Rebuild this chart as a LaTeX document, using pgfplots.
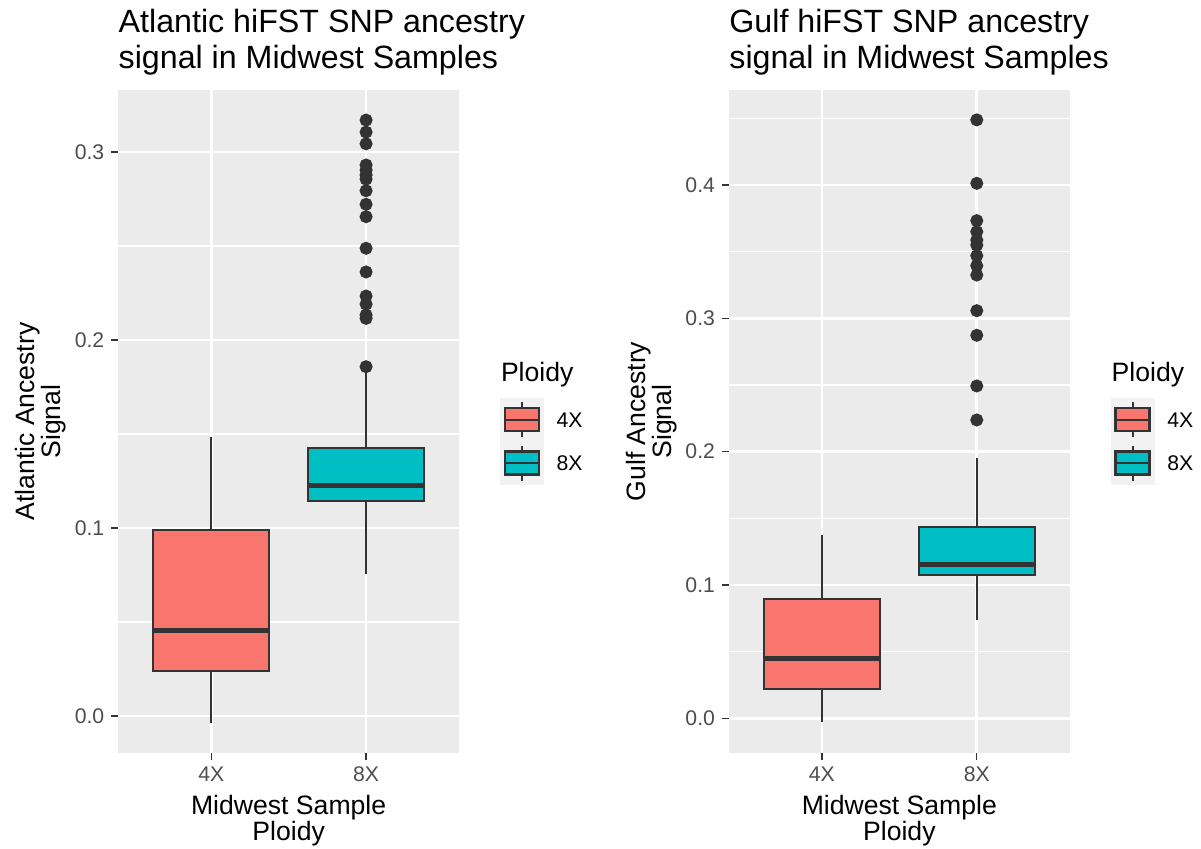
\documentclass[border=0pt]{standalone}
\usepackage{fontspec}
\setmainfont{Liberation Sans}
\usepackage{pgfplots}
\pgfplotsset{compat=1.18}
\usepgfplotslibrary{statistics}
\definecolor{panelbg}{HTML}{EBEBEB}
\definecolor{keybg}{HTML}{F2F2F2}
\definecolor{dark}{HTML}{333333}
\definecolor{ticktext}{HTML}{4D4D4D}
\definecolor{c4x}{HTML}{F8766D}
\definecolor{c8x}{HTML}{00BFC4}

\pgfplotsset{
  ggkey/.style={legend image code/.code={
      \fill[keybg] (0pt,-10.625pt) rectangle (21.5pt,10.625pt);
      \draw[dark, line width=1.1pt] (10.75pt,-8.75pt) -- (10.75pt,8.75pt);
      \filldraw[fill=#1, draw=dark, line width=1.1pt] (2pt,-5.75pt) rectangle (19pt,5.75pt);
      \draw[dark, line width=1.1pt] (2pt,0pt) -- (19pt,0pt);
  }},
  ggpanel/.style={
    scale only axis, width=170.35pt, height=331.5pt,
    anchor=south west,
    axis background/.style={fill=panelbg},
    axis line style={draw=none},
    xmin=0.4, xmax=2.6, xtick={1,2}, xticklabels={4X,8X},
    xtick pos=bottom, ytick pos=left,
    tick align=outside, major tick length=3.5pt, minor tick length=0pt,
    tick style={dark, line width=0.65pt},
    grid=both,
    major grid style={white, line width=1.3pt},
    minor grid style={white, line width=0.65pt},
    ticklabel style={font=\fontsize{10.6}{12}\selectfont, text=ticktext},
    label style={font=\fontsize{13.3}{13.25}\selectfont, text=black, align=center, inner sep=0pt},
    xlabel style={at={(axis description cs:0.5,-0.0625)}, anchor=north},
    ylabel style={at={(axis description cs:-0.3040,0.5)}, anchor=north},
    boxplot/draw direction=y,
    boxplot/box extend=0.75,
    boxplot/whisker extend=0,
    boxplot/every box/.style={draw=dark, line width=1.15pt},
    boxplot/every whisker/.style={draw=dark, line width=1.15pt},
    boxplot/every median/.style={draw=dark, line width=2.3pt},
    legend style={draw=none, fill=none, inner sep=0pt, row sep=0pt, column sep=6.2pt,
      nodes={inner sep=0pt, text depth=0pt}, cells={anchor=west},
      font=\fontsize{10.6}{12}\selectfont,
      at={(axis description cs:1.1203,0.5359)}, anchor=north west},
  },
  ggbox/.style={forget plot, fill=#1, draw=dark, line width=1.15pt, mark=*,
    mark size=2.67pt, mark options={fill=dark, draw=none}},
}

\begin{document}
\begin{tikzpicture}
\path[use as bounding box] (0,0) rectangle (600.5pt,424pt);

% left panel: Atlantic
\begin{axis}[ggpanel, at={(59.15pt,47.5pt)},
  ymin=-0.0197, ymax=0.333,
  ytick={0,0.1,0.2,0.3}, yticklabels={0.0,0.1,0.2,0.3},
  minor ytick={0.05,0.15,0.25},
  xlabel={Midwest Sample\\Ploidy},
  ylabel={Atlantic Ancestry\\Signal}]
\addplot[ggbox=c4x, boxplot prepared={draw position=1,
  lower whisker=-0.0036, lower quartile=0.0241, median=0.0454,
  upper quartile=0.0990, upper whisker=0.1486}] coordinates {};
\addplot[ggbox=c8x, boxplot prepared={draw position=2,
  lower whisker=0.0755, lower quartile=0.1144, median=0.1225,
  upper quartile=0.1424, upper whisker=0.1837}]
  table[row sep=\\, y index=0] {
  0.3170\\ 0.3106\\ 0.3044\\ 0.2931\\ 0.2904\\ 0.2878\\ 0.2856\\ 0.2794\\
  0.2722\\ 0.2656\\ 0.2488\\ 0.2362\\ 0.2234\\ 0.2191\\ 0.2133\\ 0.2115\\ 0.1858\\
  };
\addlegendimage{ggkey=c4x}\addlegendentry{4X}
\addlegendimage{ggkey=c8x}\addlegendentry{8X}
\end{axis}

% right panel: Gulf
\begin{axis}[ggpanel, at={(364.5pt,47.5pt)},
  ymin=-0.026, ymax=0.4713,
  ytick={0,0.1,0.2,0.3,0.4}, yticklabels={0.0,0.1,0.2,0.3,0.4},
  minor ytick={0.05,0.15,0.25,0.35,0.45},
  xlabel={Midwest Sample\\Ploidy},
  ylabel={Gulf Ancestry\\Signal}]
\addplot[ggbox=c4x, boxplot prepared={draw position=1,
  lower whisker=-0.0030, lower quartile=0.0220, median=0.0450,
  upper quartile=0.0893, upper whisker=0.1375}] coordinates {};
\addplot[ggbox=c8x, boxplot prepared={draw position=2,
  lower whisker=0.0737, lower quartile=0.1075, median=0.1155,
  upper quartile=0.1437, upper whisker=0.1950}]
  table[row sep=\\, y index=0] {
  0.4489\\ 0.4013\\ 0.3733\\ 0.3650\\ 0.3588\\ 0.3550\\ 0.3470\\ 0.3395\\
  0.3325\\ 0.3058\\ 0.2873\\ 0.2493\\ 0.2238\\
  };
\addlegendimage{ggkey=c4x}\addlegendentry{4X}
\addlegendimage{ggkey=c8x}\addlegendentry{8X}
\end{axis}

% titles
\begin{scope}[every node/.style={anchor=base west, inner sep=0pt, font=\fontsize{16.1}{17.5}\selectfont}]
\node at (59.15pt,407.6pt) {Atlantic hiFST SNP ancestry};
\node at (59.15pt,389.9pt) {signal in Midwest Samples};
\node at (364.5pt,407.6pt) {Gulf hiFST SNP ancestry};
\node at (364.5pt,389.9pt) {signal in Midwest Samples};
\end{scope}
% legend titles
\begin{scope}[every node/.style={anchor=base west, inner sep=0pt, font=\fontsize{13.3}{13.25}\selectfont}]
\node at (250.3pt,233.15pt) {Ploidy};
\node at (555.65pt,233.15pt) {Ploidy};
\end{scope}
\end{tikzpicture}
\end{document}
